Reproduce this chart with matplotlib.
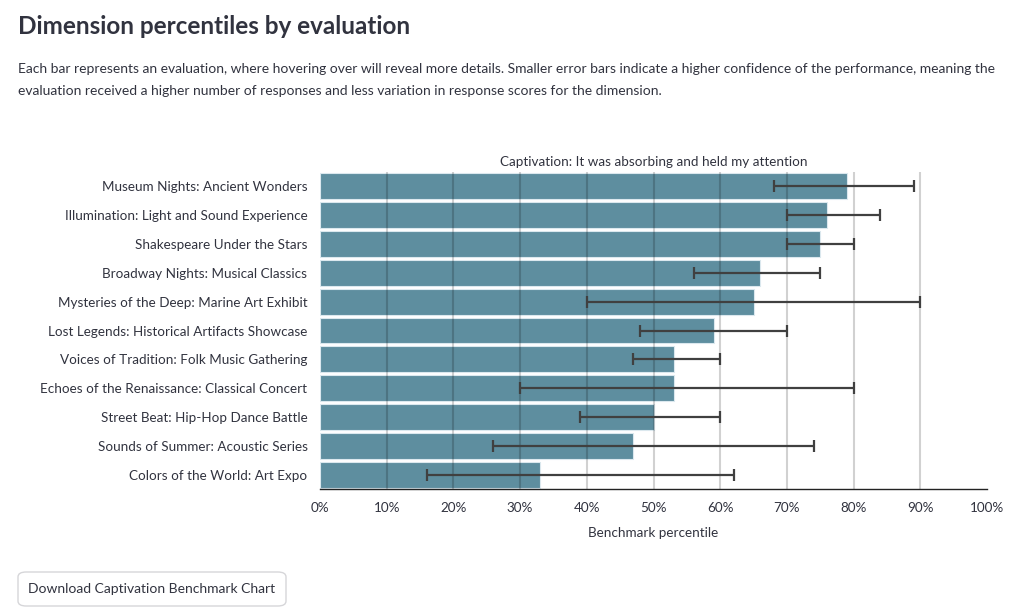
import matplotlib.pyplot as plt
from matplotlib.patches import FancyBboxPatch
from matplotlib.ticker import PercentFormatter

plt.rcParams['font.family'] = ['Lato', 'DejaVu Sans']

#chart data, top bar first
evaluations = [
    "Museum Nights: Ancient Wonders",
    "Illumination: Light and Sound Experience",
    "Shakespeare Under the Stars",
    "Broadway Nights: Musical Classics",
    "Mysteries of the Deep: Marine Art Exhibit",
    "Lost Legends: Historical Artifacts Showcase",
    "Voices of Tradition: Folk Music Gathering",
    "Echoes of the Renaissance: Classical Concert",
    "Street Beat: Hip-Hop Dance Battle",
    "Sounds of Summer: Acoustic Series",
    "Colors of the World: Art Expo",
]
percentile = [79, 76, 75, 66, 65, 59, 53, 53, 50, 47, 33]
err_low = [68, 70, 70, 56, 40, 48, 47, 30, 39, 26, 16]
err_high = [89, 84, 80, 75, 90, 70, 60, 80, 60, 74, 62]
x_ticks = [0, 10, 20, 30, 40, 50, 60, 70, 80, 90, 100]

text_col = "#31333F"
bar_col = "#5E8E9F"

fig = plt.figure(figsize=(10.24, 6.16), dpi=100)

#page header
fig.text(18 / 1024, 1 - 27 / 616, "Dimension percentiles by evaluation",
         fontsize=17.5, fontweight="bold", color=text_col, va="center", ha="left")
fig.text(18 / 1024, 1 - 69 / 616,
         "Each bar represents an evaluation, where hovering over will reveal more details. "
         "Smaller error bars indicate a higher confidence of the performance, meaning the",
         fontsize=10, color=text_col, va="center", ha="left")
fig.text(18 / 1024, 1 - 91 / 616,
         "evaluation received a higher number of responses and less variation in response "
         "scores for the dimension.",
         fontsize=10, color=text_col, va="center", ha="left")

ax = fig.add_axes([320 / 1024, 1 - 489 / 616, 667 / 1024, 317 / 616])
ypos = list(range(len(evaluations)))
ax.barh(ypos, percentile, height=0.9, color=bar_col, edgecolor="#dbe8ee",
        linewidth=0.8, zorder=1)

#error bars
xerr = [[p - lo for p, lo in zip(percentile, err_low)],
        [hi - p for p, hi in zip(percentile, err_high)]]
ax.errorbar(percentile, ypos, xerr=xerr, fmt="none", ecolor="#404040",
            elinewidth=1.6, capsize=4, capthick=1.6, zorder=3)

#gridlines over the bars
ax.vlines(x_ticks[1:-1], -0.5, len(evaluations) - 0.5, colors="black",
          alpha=0.18, linewidth=1.5, zorder=2)

ax.set_xlim(0, 100)
ax.set_ylim(len(evaluations) - 0.5, -0.5)
ax.set_xticks(x_ticks)
ax.xaxis.set_major_formatter(PercentFormatter(decimals=0))
ax.set_yticks(ypos)
ax.set_yticklabels(evaluations)
ax.tick_params(axis="y", length=0, pad=9, labelsize=9.7, labelcolor=text_col)
ax.tick_params(axis="x", length=0, pad=9, labelsize=9.7, labelcolor=text_col)
for side in ["left", "right", "top"]:
    ax.spines[side].set_visible(False)
ax.spines["bottom"].set_color("#222222")
ax.spines["bottom"].set_linewidth(1)
ax.set_xlabel("Benchmark percentile", fontsize=9.7, color=text_col, labelpad=10)
ax.set_title("Captivation: It was absorbing and held my attention",
             fontsize=9.7, color=text_col, pad=4)

#download button
btn = FancyBboxPatch((18 / 1024, 1 - 606 / 616), 268 / 1024, 34 / 616,
                     boxstyle="round,pad=0,rounding_size=0.008",
                     transform=fig.transFigure, facecolor="white",
                     edgecolor="#d6d6d9", linewidth=1)
fig.patches.append(btn)
fig.text(152 / 1024, 1 - 589 / 616, "Download Captivation Benchmark Chart",
         fontsize=10, color=text_col, ha="center", va="center")

fig.savefig("out.png", dpi=100)
